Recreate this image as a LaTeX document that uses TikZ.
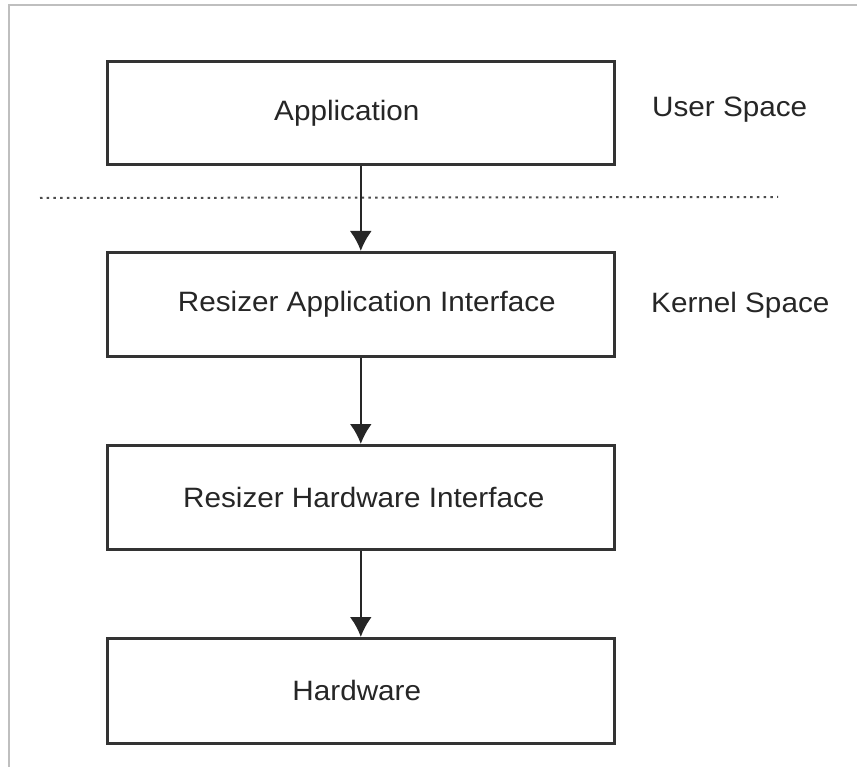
\documentclass[tikz,border=0pt]{standalone}
\usepackage{fontspec}
\setmainfont[FakeStretch=1.06]{Liberation Sans}
\usetikzlibrary{arrows.meta}
\begin{document}
\begin{tikzpicture}[x=1pt,y=-1pt,
  layerbox/.style={draw=black!80,line width=2.6pt,minimum width=507pt,inner sep=0pt,anchor=north west,text=black!85,font=\fontsize{28}{32}\selectfont},
  sidelabel/.style={anchor=west,text=black!85,font=\fontsize{28}{32}\selectfont,inner sep=0pt},
  flow/.style={draw=black!85,line width=2.2pt,-{Latex[length=20pt,width=22pt]}},
  sep/.style={draw=black!70,line width=2pt,dash pattern=on 2.5pt off 4.2pt}]
\useasboundingbox[fill=white] (0,0) rectangle (857,767);
\draw[black!25,line width=2pt] (9,767) -- (9,5) -- (857,5);
\node[layerbox,minimum height=103pt] (app) at (106,60) {Application\hspace*{28pt}};
\node[layerbox,minimum height=104pt] (rai) at (106,251) {\hspace*{12pt}Resizer Application Interface};
\node[layerbox,minimum height=104pt] (rhi) at (106,444) {\hspace*{6pt}Resizer Hardware Interface};
\node[layerbox,minimum height=105pt] (hw) at (106,637) {Hardware\hspace*{8pt}};
\node[sidelabel] (us) at (652,110) {User Space};
\node[sidelabel] (ks) at (651,305) {Kernel Space};
\coordinate (dl) at (40,198);
\coordinate (dr) at (778,197);
\draw[sep] (dl) -- (dr);
\draw[flow] (app.south) -- (rai.north);
\draw[flow] (rai.south) -- (rhi.north);
\draw[flow] (rhi.south) -- (hw.north);
\end{tikzpicture}
\end{document}
